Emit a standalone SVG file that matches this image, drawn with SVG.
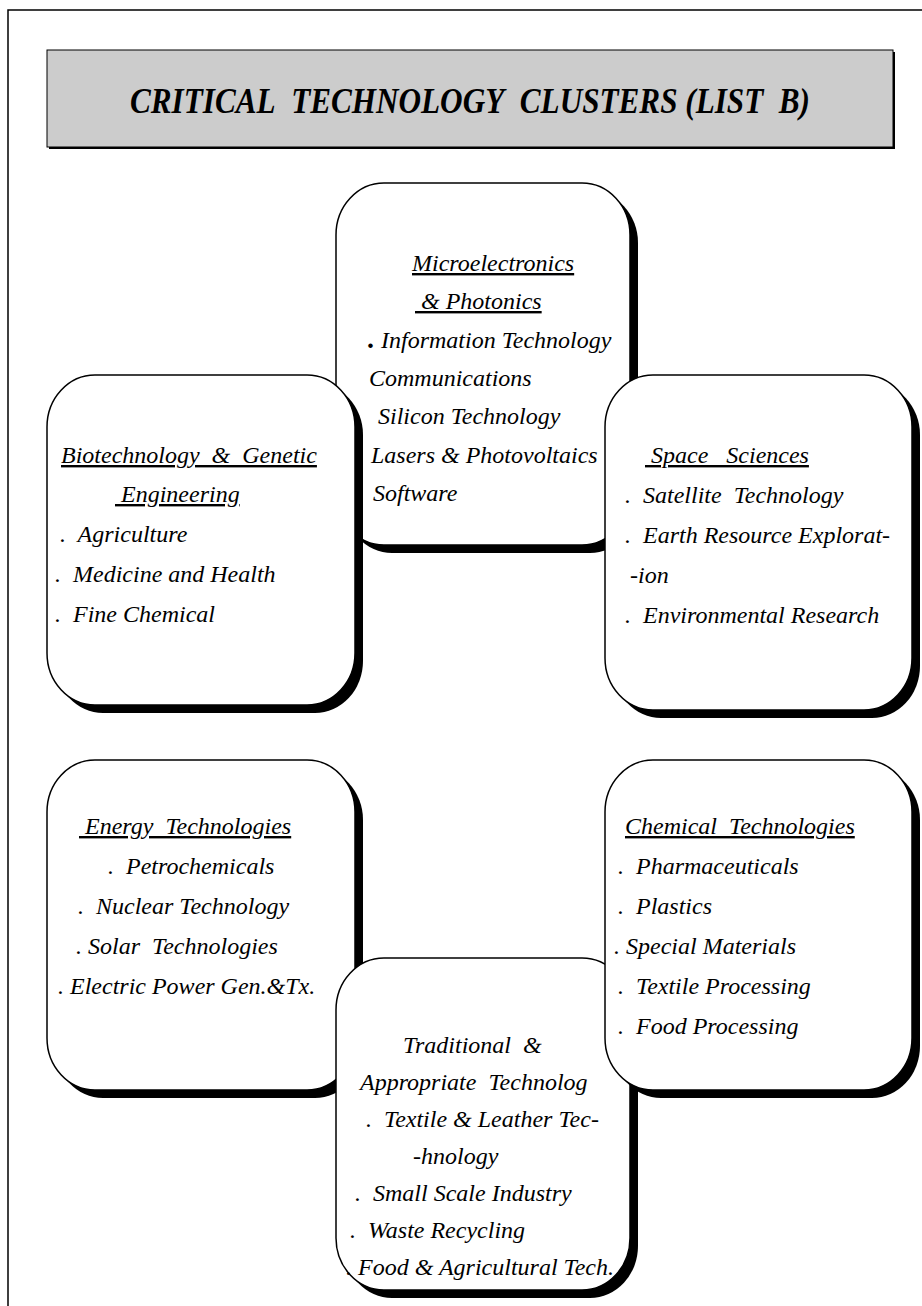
<svg xmlns="http://www.w3.org/2000/svg" width="922" height="1306" viewBox="0 0 922 1306">
<style>
.frame{fill:none;stroke:#000;stroke-width:1.5}
.box{fill:#fff;stroke:#000;stroke-width:1.5}
.shadow{fill:#000}
.t{font-family:"Liberation Serif","Times New Roman",serif;font-style:italic;font-size:24px;fill:#000}
.u{text-decoration:underline}
.title{font-family:"Liberation Serif","Times New Roman",serif;font-style:italic;font-weight:bold;font-size:36px;fill:#000}
</style>
<rect width="922" height="1306" fill="#fff"/>
<path class="frame" d="M8,1306 V10 H922"/>
<g id="title">
<rect x="49" y="52" width="846" height="97" fill="#000"/>
<rect x="47" y="50" width="846" height="97" fill="#cccccc" stroke="#000" stroke-width="1"/>
<text class="title" x="470" y="113" text-anchor="middle" textLength="680" lengthAdjust="spacingAndGlyphs">CRITICAL&#160; TECHNOLOGY&#160; CLUSTERS (LIST&#160; B)</text>
</g>
<g id="connectors"></g>
<g id="micro">
<rect class="shadow" x="344" y="191" width="294" height="362" rx="48" ry="52"/>
<rect class="box" x="336" y="183" width="294" height="362" rx="48" ry="52"/>
<g class="t">
<text class="u" x="412" y="271">Microelectronics</text>
<text class="u" x="415" y="309">&#160;&amp; Photonics</text>
<text x="368" y="348"><tspan font-weight="bold" font-size="28">.</tspan> Information Technology</text>
<text x="369" y="386">Communications</text>
<text x="378" y="424">Silicon Technology</text>
<text x="371" y="463">Lasers &amp; Photovoltaics</text>
<text x="373" y="501">Software</text>
</g>
</g>
<g id="biotech">
<rect class="shadow" x="55" y="383" width="308" height="330" rx="48" ry="52"/>
<rect class="box" x="47" y="375" width="308" height="330" rx="48" ry="52"/>
<g class="t">
<text class="u" x="61" y="463">Biotechnology&#160; &amp;&#160; Genetic</text>
<text class="u" x="115" y="502">&#160;Engineering</text>
<text x="60" y="542">.&#160; Agriculture</text>
<text x="55" y="582">.&#160; Medicine and Health</text>
<text x="55" y="622">.&#160; Fine Chemical</text>
</g>
</g>
<g id="space">
<rect class="shadow" x="613" y="383" width="307" height="335" rx="48" ry="52"/>
<rect class="box" x="605" y="375" width="307" height="335" rx="48" ry="52"/>
<g class="t">
<text class="u" x="645" y="463">&#160;Space&#160;&#160; Sciences</text>
<text x="625" y="503">.&#160; Satellite&#160; Technology</text>
<text x="625" y="543">.&#160; Earth Resource Explorat-</text>
<text x="630" y="583">-ion</text>
<text x="625" y="623">.&#160; Environmental Research</text>
</g>
</g>
<g id="energy">
<rect class="shadow" x="55" y="768" width="308" height="330" rx="48" ry="52"/>
<rect class="box" x="47" y="760" width="308" height="330" rx="48" ry="52"/>
<g class="t">
<text class="u" x="79" y="834">&#160;Energy&#160; Technologies</text>
<text x="108" y="874">.&#160; Petrochemicals</text>
<text x="78" y="914">.&#160; Nuclear Technology</text>
<text x="76" y="954">. Solar&#160; Technologies</text>
<text x="58" y="994">. Electric Power Gen.&amp;Tx.</text>
</g>
</g>
<g id="traditional">
<rect class="shadow" x="344" y="966" width="294" height="332" rx="48" ry="52"/>
<rect class="box" x="336" y="958" width="294" height="332" rx="48" ry="52"/>
<g class="t">
<text x="403" y="1053">Traditional&#160; &amp;</text>
<text x="360" y="1090">Appropriate&#160; Technolog</text>
<text x="366" y="1127">.&#160; Textile &amp; Leather Tec-</text>
<text x="413" y="1164">-hnology</text>
<text x="355" y="1201">.&#160; Small Scale Industry</text>
<text x="350" y="1238">.&#160; Waste Recycling</text>
<text x="346" y="1275">. Food &amp; Agricultural Tech.</text>
</g>
</g>
<g id="chemical">
<rect class="shadow" x="613" y="768" width="307" height="330" rx="48" ry="52"/>
<rect class="box" x="605" y="760" width="307" height="330" rx="48" ry="52"/>
<g class="t">
<text class="u" x="625" y="834">Chemical&#160; Technologies</text>
<text x="618" y="874">.&#160; Pharmaceuticals</text>
<text x="618" y="914">.&#160; Plastics</text>
<text x="614" y="954">. Special Materials</text>
<text x="618" y="994">.&#160; Textile Processing</text>
<text x="618" y="1034">.&#160; Food Processing</text>
</g>
</g>
</svg>
